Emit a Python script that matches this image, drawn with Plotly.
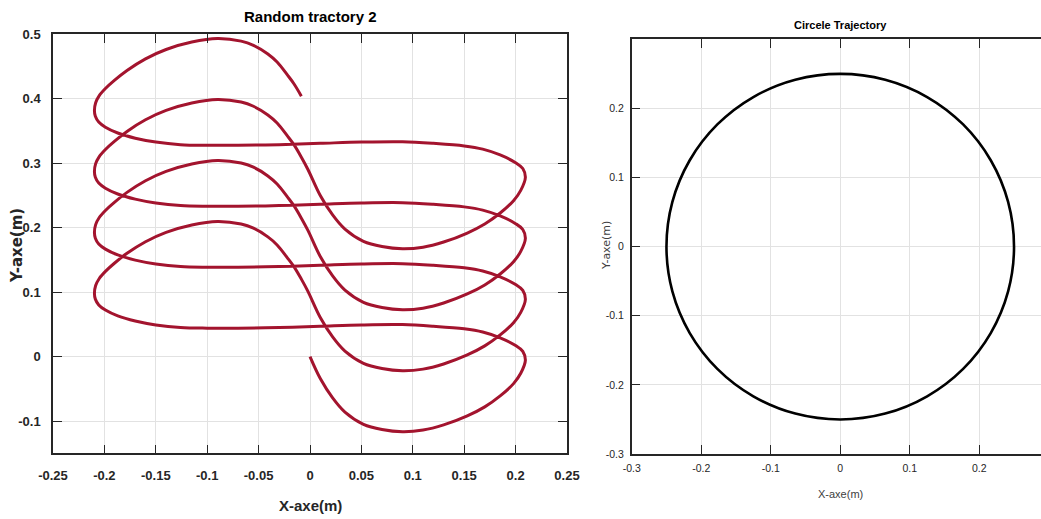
import plotly.graph_objects as go

# ---------------- data: "Random tractory 2" (loop by loop) -------------
loop_x = [0.010, 0.022, 0.034, 0.052, 0.070, 0.090, 0.110, 0.130, 0.153, 0.170,
          0.185, 0.198, 0.205, 0.2095, 0.207, 0.200, 0.185, 0.168, 0.150, 0.120,
          0.090, 0.050, 0.010, -0.030, -0.070, -0.100, -0.126, -0.150, -0.170, -0.187,
          -0.199, -0.2055, -0.2088, -0.2097,
          -0.2085, -0.205, -0.199, -0.190, -0.178, -0.160, -0.140, -0.115, -0.090,
          -0.067, -0.055, -0.041, -0.032, -0.022, -0.0155, -0.0084]

loop1_x = [0.000] + loop_x
loop1_y = [0.000,
           -0.034, -0.064, -0.086, -0.105, -0.113, -0.1165, -0.114, -0.106, -0.092, -0.078,
           -0.061, -0.042, -0.026, -0.006, 0.008, 0.017, 0.029, 0.038, 0.043, 0.047,
           0.0495, 0.049, 0.047, 0.045, 0.044, 0.044, 0.045, 0.049, 0.055, 0.063,
           0.072, 0.080, 0.089, 0.098,
           0.110, 0.121, 0.132, 0.145, 0.160, 0.178, 0.1925, 0.204, 0.2095,
           0.2055, 0.199, 0.1855, 0.173, 0.153, 0.139, 0.120]

loop2_x = [-0.002] + loop_x
loop2_y = [0.101,
           0.0605, 0.0305, 0.0085, -0.0105, -0.0185, -0.022, -0.0195, -0.0115, 0.0025, 0.0165,
           0.0335, 0.0525, 0.0685, 0.0885, 0.1025, 0.1115, 0.1235, 0.1325, 0.1375, 0.1415,
           0.144, 0.1435, 0.1415, 0.1395, 0.1385, 0.1385, 0.1395, 0.1435, 0.1495, 0.1575,
           0.1665, 0.1745, 0.1835, 0.1925,
           0.2045, 0.2155, 0.2265, 0.2395, 0.2545, 0.2725, 0.287, 0.2985, 0.304,
           0.300, 0.2935, 0.280, 0.2675, 0.2475, 0.2335, 0.2145]

loop3_x = [-0.002] + loop_x
loop3_y = [0.1955,
           0.155, 0.125, 0.103, 0.084, 0.076, 0.0725, 0.075, 0.083, 0.097, 0.111,
           0.128, 0.147, 0.163, 0.183, 0.197, 0.206, 0.218, 0.227, 0.232, 0.236,
           0.2385, 0.238, 0.236, 0.234, 0.233, 0.233, 0.234, 0.238, 0.244, 0.252,
           0.261, 0.269, 0.278, 0.287,
           0.299, 0.310, 0.321, 0.334, 0.349, 0.367, 0.3815, 0.393, 0.3985,
           0.3945, 0.388, 0.3745, 0.362, 0.342, 0.328, 0.309]

loop4_x = [-0.002] + loop_x
loop4_y = [0.290,
           0.2495, 0.2195, 0.1975, 0.1785, 0.1705, 0.167, 0.1695, 0.1775, 0.1915, 0.2055,
           0.2225, 0.2415, 0.2575, 0.2775, 0.2915, 0.3005, 0.3125, 0.3215, 0.3265, 0.3305,
           0.333, 0.3325, 0.3305, 0.3285, 0.3275, 0.3275, 0.3285, 0.3325, 0.3385, 0.3465,
           0.3555, 0.3635, 0.3725, 0.3815,
           0.3935, 0.4045, 0.4155, 0.4285, 0.4435, 0.4615, 0.476, 0.4875, 0.493,
           0.489, 0.4825, 0.469, 0.4565, 0.4365, 0.4225, 0.4036]

# ---------------- data: "Circele Trajectory" -------------
circle_x = [0.250, 0.2415, 0.2165, 0.1768, 0.125, 0.0647, 0.0, -0.0647, -0.125, -0.1768, -0.2165, -0.2415,
            -0.250, -0.2415, -0.2165, -0.1768, -0.125, -0.0647, 0.0, 0.0647, 0.125, 0.1768, 0.2165, 0.2415, 0.250]
circle_y = [0.0, 0.0647, 0.125, 0.1768, 0.2165, 0.2415, 0.250, 0.2415, 0.2165, 0.1768, 0.125, 0.0647,
            0.0, -0.0647, -0.125, -0.1768, -0.2165, -0.2415, -0.250, -0.2415, -0.2165, -0.1768, -0.125, -0.0647, 0.0]

# ---------------- tick labels -------------
left_xticks = [-0.25, -0.2, -0.15, -0.1, -0.05, 0, 0.05, 0.1, 0.15, 0.2, 0.25]
left_xlabels = ["-0.25", "-0.2", "-0.15", "-0.1", "-0.05", "0", "0.05", "0.1", "0.15", "0.2", "0.25"]
left_yticks = [-0.1, 0, 0.1, 0.2, 0.3, 0.4, 0.5]
left_ylabels = ["-0.1", "0", "0.1", "0.2", "0.3", "0.4", "0.5"]
right_xticks = [-0.3, -0.2, -0.1, 0, 0.1, 0.2]
right_xlabels = ["-0.3", "-0.2", "-0.1", "0", "0.1", "0.2"]
right_yticks = [-0.3, -0.2, -0.1, 0, 0.1, 0.2]
right_ylabels = ["-0.3", "-0.2", "-0.1", "0", "0.1", "0.2"]

traj_x = loop1_x + loop2_x + loop3_x + loop4_x
traj_y = loop1_y + loop2_y + loop3_y + loop4_y

W, H = 1041, 519
SANS = "Liberation Sans, Arial, sans-serif"
AXC = "#262626"
GRID = "#e2e2e2"

fig = go.Figure()
fig.add_trace(go.Scatter(x=traj_x, y=traj_y, mode="lines",
                         line=dict(color="#A3142E", width=3, shape="spline", smoothing=1.0),
                         xaxis="x", yaxis="y", hoverinfo="skip"))
fig.add_trace(go.Scatter(x=circle_x, y=circle_y, mode="lines",
                         line=dict(color="black", width=2.6, shape="spline", smoothing=1.0),
                         xaxis="x2", yaxis="y2", hoverinfo="skip"))

def ax(domain, rng, tv, tt, anchor, font, mirror, standoff):
    return dict(domain=domain, range=rng, tickvals=tv, ticktext=tt, anchor=anchor,
                showgrid=True, gridcolor=GRID, gridwidth=1, zeroline=False, automargin=False,
                showline=True, linecolor=AXC, linewidth=1.5, mirror=mirror,
                ticks="inside", ticklen=9, tickwidth=1.2, tickcolor=AXC,
                tickfont=font, ticklabelstandoff=standoff, fixedrange=True)

lfont = dict(family=SANS, size=13, color=AXC, weight="bold")
rfont = dict(family=SANS, size=10.5, color=AXC)

fig.update_layout(
    width=W, height=H, margin=dict(l=0, r=0, t=0, b=0, autoexpand=False),
    paper_bgcolor="white", plot_bgcolor="white", showlegend=False,
    xaxis=ax([53 / W, 567 / W], [-0.25, 0.25], left_xticks, left_xlabels, "y", lfont, "ticks", 9),
    yaxis=ax([1 - 453.3 / H, 1 - 34 / H], [-0.15, 0.5], left_yticks, left_ylabels, "x", lfont, "ticks", 8),
    xaxis2=ax([631.7 / W, 1.0], [-0.3, 0.2888], right_xticks, right_xlabels, "y2", rfont, "ticks", 4),
    yaxis2=ax([1 - 454 / H, 1 - 39.3 / H], [-0.3, 0.3], right_yticks, right_ylabels, "x2", rfont, False, 4),
)

ann = [
    dict(text="<b>Random tractory 2</b>", x=310 / W, y=1 - 17 / H,
         font=dict(family=SANS, size=15, color="black")),
    dict(text="<b>X-axe(m)</b>", x=310 / W, y=1 - 505 / H,
         font=dict(family=SANS, size=15, color=AXC)),
    dict(text="<b>Y-axe(m)</b>", x=17 / W, y=1 - 246 / H, textangle=-90,
         font=dict(family="DejaVu Sans, Liberation Sans, sans-serif", size=15, color=AXC)),
    dict(text="<b>Circele Trajectory</b>", x=840 / W, y=1 - 25 / H,
         font=dict(family=SANS, size=11, color="black")),
    dict(text="X-axe(m)", x=840 / W, y=1 - 494 / H,
         font=dict(family=SANS, size=11, color="#404040")),
    dict(text="Y-axe(m)", x=606 / W, y=1 - 246 / H, textangle=-90,
         font=dict(family="DejaVu Sans, Liberation Sans, sans-serif", size=11, color="#404040")),
]
for a in ann:
    a.update(xref="paper", yref="paper", showarrow=False, xanchor="center", yanchor="middle")
fig.update_layout(annotations=ann)

fig.write_html("out.html")
